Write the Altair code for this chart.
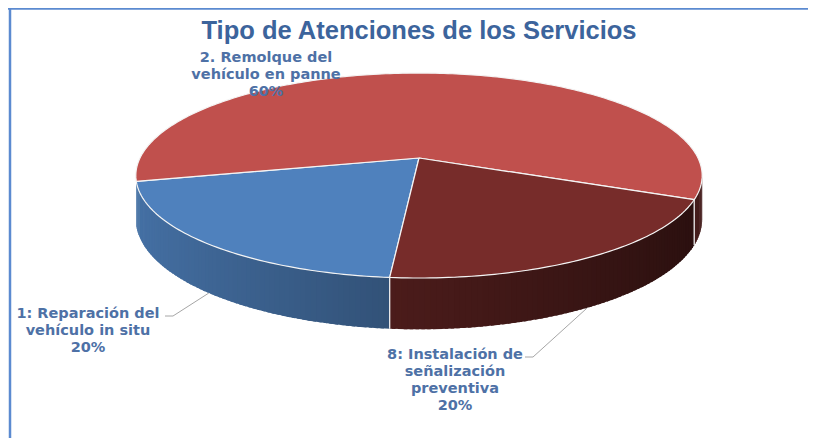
import math
import altair as alt
import pandas as pd

# ---------------- data ----------------
categories = [
    "1: Reparación del vehículo in situ",
    "2. Remolque del vehículo en panne",
    "8: Instalación de señalización preventiva",
]
label_lines = [
    ["1: Reparación del", "vehículo in situ"],
    ["2. Remolque del", "vehículo en panne"],
    ["8: Instalación de", "señalización", "preventiva"],
]
shares = [20, 60, 20]
pct_labels = ["20%", "60%", "20%"]
top_colors = ["#4F81BD", "#C0504D", "#772C2A"]
title_text = "Tipo de Atenciones de los Servicios"

# ---------------- layout (pixels of the page) ----------------
W, H = 800, 430
CX, CY = 419, 158          # pie centre
R = 279                    # radius
A = 99.5                   # vertical semi-axis factor
C = 0.171                  # perspective strength
T = 42.5                   # thickness
START = 185                # first slice angle (deg, clockwise from 12 o'clock)
WALL_FROM, WALL_TO = 100, 257
title_pos = (419, 39)
label_pos = [(88, 318), (266, 62), (455, 359)]
leader_elbow = [((173, 316), (165, 316)), None, ((533, 357), (525, 357))]


def proj(phi, drop=0.0):
    p = math.radians(phi)
    s, d = math.sin(p), -math.cos(p)
    g = 1.0 / (1.0 - C * d)
    return CX + R * s * g, CY + A * d * g + T * g * drop


def hex2rgb(h):
    h = h.lstrip("#")
    return [int(h[i:i + 2], 16) for i in (0, 2, 4)]


def shade(h, f):
    r, g, b = hex2rgb(h)
    return "#%02x%02x%02x" % tuple(max(0, min(255, int(round(v * f)))) for v in (r, g, b))


total = sum(shares)
bounds = []
a = START
for v in shares:
    span = 360.0 * v / total
    bounds.append((a, a + span))
    a += span


def slice_of(phi):
    for i, (a0, a1) in enumerate(bounds):
        for k in (-360, 0, 360):
            if a0 <= phi + k < a1:
                return i
    return 0


# top faces
top_rows = []
for i, (a0, a1) in enumerate(bounds):
    pts = [(CX, CY)]
    n = int(math.ceil(a1 - a0))
    for k in range(n + 1):
        pts.append(proj(a0 + (a1 - a0) * k / n))
    pts.append((CX, CY))
    for o, (x, y) in enumerate(pts):
        top_rows.append({"poly": f"t{i}", "o": o, "x": x, "y": y,
                         "fill": top_colors[i], "stroke": "#F4F4F4"})
top_df = pd.DataFrame(top_rows)

# side walls (visible front part)
cuts = [b % 360 for ab in bounds for b in ab if WALL_FROM < (b % 360) < WALL_TO]
breaks = sorted(set([float(v) for v in range(WALL_FROM, WALL_TO + 1)] + cuts))
wall_rows = []
for q in range(len(breaks) - 1):
    p0, p1 = breaks[q], breaks[q + 1]
    mid = (p0 + p1) / 2
    i = slice_of(mid)
    f = 0.61 - 0.27 * math.sin(math.radians(mid))
    col = shade(top_colors[i], f)
    p1e = min(p1 + 0.6, WALL_TO) if slice_of(min(p1 + 0.3, WALL_TO - 0.01)) == i else p1
    pts = [proj(p0), proj(p1e), proj(p1e, 1), proj(p0, 1), proj(p0)]
    for o, (x, y) in enumerate(pts):
        wall_rows.append({"poly": f"w{q:04d}", "o": o, "x": x, "y": y, "fill": col})
wall_df = pd.DataFrame(wall_rows)

# slice edges on the wall
edge_rows = []
for j, (a0, a1) in enumerate(bounds):
    b = a0 % 360
    if WALL_FROM < b < WALL_TO:
        for o, (x, y) in enumerate([proj(b), proj(b, 1)]):
            edge_rows.append({"poly": f"e{j}", "o": o, "x": x, "y": y})
edge_df = pd.DataFrame(edge_rows)

# labels
lab_rows = []
lead_rows = []
for i in range(len(shares)):
    lx, ly = label_pos[i]
    lab_rows.append({"x": lx, "y": ly, "txt": "\n".join(label_lines[i] + [pct_labels[i]]),
                     "category": categories[i]})
    if leader_elbow[i] is not None:
        a0, a1 = bounds[i]
        ex, ey = proj((a0 + a1) / 2, 1)
        pts = [(ex, ey)] + list(leader_elbow[i])
        for o, (x, y) in enumerate(pts):
            lead_rows.append({"poly": f"l{i}", "o": o, "x": x, "y": y})
lab_df = pd.DataFrame(lab_rows)
lead_df = pd.DataFrame(lead_rows)
title_df = pd.DataFrame([{"x": title_pos[0], "y": title_pos[1], "txt": title_text}])

xs = alt.Scale(domain=[8, 8 + W], nice=False, zero=False)
ys = alt.Scale(domain=[8, 8 + H], nice=False, zero=False, reverse=True)
X = alt.X("x:Q", scale=xs, axis=None)
Y = alt.Y("y:Q", scale=ys, axis=None)

walls = alt.Chart(wall_df).mark_line(filled=True, strokeWidth=0).encode(
    x=X, y=Y, order=alt.Order("o:Q"), detail="poly:N",
    fill=alt.Fill("fill:N", scale=None))

edges = alt.Chart(edge_df).mark_line(color="#EDEDED", strokeWidth=1.3).encode(
    x=X, y=Y, order=alt.Order("o:Q"), detail="poly:N")

tops = alt.Chart(top_df).mark_line(filled=True, strokeWidth=1.2, strokeJoin="round").encode(
    x=X, y=Y, order=alt.Order("o:Q"), detail="poly:N",
    fill=alt.Fill("fill:N", scale=None), stroke=alt.Stroke("stroke:N", scale=None))

leaders = alt.Chart(lead_df).mark_line(color="#A6A6A6", strokeWidth=1).encode(
    x=X, y=Y, order=alt.Order("o:Q"), detail="poly:N")

labels = alt.Chart(lab_df).mark_text(
    align="center", baseline="alphabetic", lineBreak="\n", lineHeight=17,
    font="DejaVu Sans", fontSize=14.5, fontWeight="bold", color="#4E71A6"
).encode(x=X, y=Y, text="txt:N")

title = alt.Chart(title_df).mark_text(
    align="center", baseline="alphabetic", font="Liberation Sans", fontSize=25.5,
    fontWeight="bold", color="#3C649C"
).encode(x=X, y=Y, text="txt:N")

frame_top = alt.Chart(title_df).mark_rule(color="#5B8AD0", strokeWidth=2.5).encode(
    x=alt.value(0), x2=alt.value(W), y=alt.value(0.5))
frame_left = alt.Chart(title_df).mark_rule(color="#5B8AD0", strokeWidth=2.5).encode(
    x=alt.value(2), y=alt.value(0), y2=alt.value(H))

chart = alt.layer(walls, edges, tops, leaders, labels, title, frame_top, frame_left).properties(
    width=W, height=H, padding=0,
    autosize=alt.AutoSizeParams(type="none"),
).configure_view(stroke=None)

chart.save("out.html", embed_options={"renderer": "svg", "actions": False})
